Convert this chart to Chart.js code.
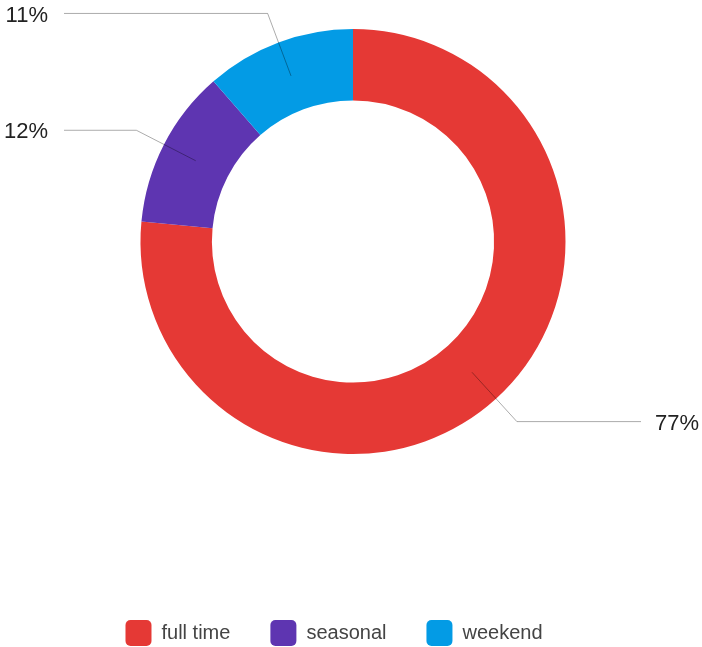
<!DOCTYPE html>
<html>
<head>
<meta charset="utf-8">
<script src="https://cdn.jsdelivr.net/npm/chart.js@4.4.1/dist/chart.umd.min.js"></script>
<style>
  html, body { margin: 0; padding: 0; background: #ffffff; }
  #wrap { position: relative; width: 702px; height: 647px; }
</style>
</head>
<body>
<div id="wrap"><canvas id="c" width="702" height="647"></canvas></div>
<script>
// ---- data ----
const categories = ['full time', 'seasonal', 'weekend'];
const shares = [76.5, 12.1, 11.4];
const sliceColors = ['#e53935', '#5e35b1', '#039be5'];
const valueLabels = ['77%', '12%', '11%'];

const FONT = '"Liberation Sans", Arial, Helvetica, sans-serif';

// invisible spacer boxes to place the doughnut and legend like the reference
function makeSpacer(position, size) {
  return {
    position: position, weight: 0, fullSize: false, options: {},
    top: 0, left: 0, right: 0, bottom: 0, width: 0, height: 0,
    isHorizontal() { return position === 'top' || position === 'bottom'; },
    update(maxWidth, maxHeight) {
      if (this.isHorizontal()) { this.width = maxWidth; this.height = size; }
      else { this.width = size; this.height = maxHeight; }
    },
    draw() {}
  };
}
const spacers = {
  id: 'spacers',
  beforeInit(chart) {
    Chart.layouts.addBox(chart, makeSpacer('bottom', 126));
    Chart.layouts.addBox(chart, makeSpacer('left', 38));
  }
};

// leader lines + percentage labels
const leaderLabels = {
  id: 'leaderLabels',
  afterDatasetsDraw(chart) {
    const ctx = chart.ctx;
    const meta = chart.getDatasetMeta(0);
    meta.data.forEach((arc, i) => {
      const p = arc.getProps(['x', 'y', 'startAngle', 'endAngle', 'innerRadius', 'outerRadius'], true);
      const mid = (p.startAngle + p.endAngle) / 2;
      const rIn = (p.innerRadius + p.outerRadius) / 2;
      const rOut = p.outerRadius + 31;
      const x1 = p.x + Math.cos(mid) * rIn, y1 = p.y + Math.sin(mid) * rIn;
      const x2 = p.x + Math.cos(mid) * rOut, y2 = p.y + Math.sin(mid) * rOut;
      const right = Math.cos(mid) >= 0;
      const x3 = right ? chart.width - 61 : 64;
      ctx.save();
      ctx.strokeStyle = 'rgba(0,0,0,0.33)';
      ctx.lineWidth = 1;
      ctx.beginPath();
      ctx.moveTo(x1, y1);
      ctx.lineTo(x2, y2);
      ctx.lineTo(x3, y2);
      ctx.stroke();
      ctx.fillStyle = '#222222';
      ctx.font = '22px ' + FONT;
      ctx.textBaseline = 'middle';
      ctx.textAlign = right ? 'left' : 'right';
      ctx.fillText(valueLabels[i], right ? x3 + 14 : x3 - 16, y2 + 2);
      ctx.restore();
    });
  }
};

new Chart(document.getElementById('c'), {
  type: 'doughnut',
  data: {
    labels: categories,
    datasets: [{
      data: shares,
      backgroundColor: sliceColors,
      borderWidth: 0,
      hoverOffset: 0
    }]
  },
  options: {
    responsive: false,
    animation: false,
    cutout: '66.4%',
    layout: { padding: { top: 29, bottom: -9, left: 0, right: 34 } },
    plugins: {
      tooltip: { enabled: false },
      legend: {
        position: 'bottom',
        labels: {
          boxWidth: 26,
          boxHeight: 26,
          useBorderRadius: true,
          borderRadius: 5,
          padding: 40,
          color: '#444444',
          font: { family: FONT, size: 20 }
        }
      }
    }
  },
  plugins: [spacers, leaderLabels]
});
</script>
</body>
</html>
